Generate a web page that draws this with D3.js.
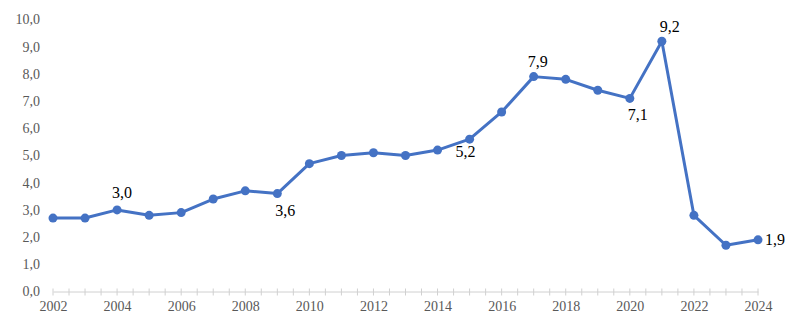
<!DOCTYPE html>
<html>
<head>
<meta charset="utf-8">
<script src="https://cdn.jsdelivr.net/npm/d3@7"></script>
<style>
  body { margin: 0; background: #fff; }
  svg { display: block; }
</style>
</head>
<body>
<div id="chart"></div>
<script>
// data
var years  = [2002, 2003, 2004, 2005, 2006, 2007, 2008, 2009, 2010, 2011, 2012, 2013,
              2014, 2015, 2016, 2017, 2018, 2019, 2020, 2021, 2022, 2023, 2024];
var values = [2.7, 2.7, 3.0, 2.8, 2.9, 3.4, 3.7, 3.6, 4.7, 5.0, 5.1, 5.0,
              5.2, 5.6, 6.6, 7.9, 7.8, 7.4, 7.1, 9.2, 2.8, 1.7, 1.9];
var x_ticks = [2002, 2004, 2006, 2008, 2010, 2012, 2014, 2016, 2018, 2020, 2022, 2024];
var y_ticks = [0, 1, 2, 3, 4, 5, 6, 7, 8, 9, 10];
var label_years = [2004, 2009, 2015, 2017, 2020, 2021, 2024];
var label_texts = ["3,0", "3,6", "5,2", "7,9", "7,1", "9,2", "1,9"];

var width  = 791;
var height = 323;
var font   = '"Times New Roman", "Liberation Serif", Tinos, "DejaVu Serif", serif';

var data = years.map(function(y, i) { return { year: y, value: values[i] }; });

var x_scale = d3.scaleLinear().domain([2002, 2024]).range([53, 758]);
var y_scale = d3.scaleLinear().domain([0, 10]).range([291.5, 19.5]);

var svg = d3.select('#chart')
    .append('svg')
    .attr('width', width)
    .attr('height', height)
    .style('font-family', font);

var fmt = function(v) { return d3.format('.1f')(v).replace('.', ','); };

// y-axis labels only (no line)
var y_axis = d3.axisLeft(y_scale)
    .tickValues(y_ticks)
    .tickSize(0)
    .tickPadding(0)
    .tickFormat(fmt);

var gy = svg.append('g')
    .attr('transform', 'translate(40,0)')
    .call(y_axis);
gy.select('.domain').remove();
gy.selectAll('text')
    .attr('fill', '#595959')
    .style('font-family', font)
    .style('font-size', '14px');

// x-axis
var half_years = d3.range(2002, 2024.01, 0.5);
var x_axis = d3.axisBottom(x_scale)
    .tickValues(x_ticks)
    .tickSize(0)
    .tickPadding(10)
    .tickFormat(d3.format('d'));

var gx = svg.append('g')
    .attr('transform', 'translate(0,' + y_scale(0) + ')')
    .call(x_axis);
gx.select('.domain').attr('stroke', '#d0d0d0');
gx.selectAll('text')
    .attr('fill', '#595959')
    .style('font-family', font)
    .style('font-size', '14px');

gx.selectAll('line.minor')
    .data(half_years)
    .enter()
    .append('line')
    .attr('class', 'minor')
    .attr('x1', function(d) { return x_scale(d); })
    .attr('x2', function(d) { return x_scale(d); })
    .attr('y1', -3)
    .attr('y2', 4)
    .attr('stroke', '#d0d0d0');

// line
var line = d3.line()
    .x(function(d) { return x_scale(d.year); })
    .y(function(d) { return y_scale(d.value); });

svg.append('path')
    .datum(data)
    .attr('fill', 'none')
    .attr('stroke', '#4472c4')
    .attr('stroke-width', 3)
    .attr('stroke-linejoin', 'round')
    .attr('d', line);

svg.selectAll('circle.pt')
    .data(data)
    .enter()
    .append('circle')
    .attr('class', 'pt')
    .attr('cx', function(d) { return x_scale(d.year); })
    .attr('cy', function(d) { return y_scale(d.value); })
    .attr('r', 4.5)
    .attr('fill', '#4472c4');

// data labels, offset from their point
var offsets = {
    2004: [5, -12, 'middle'],
    2009: [8, 22, 'middle'],
    2015: [-4, 18, 'middle'],
    2017: [4, -10, 'middle'],
    2020: [8, 22, 'middle'],
    2021: [8, -9, 'middle'],
    2024: [7, 5, 'start']
};

svg.selectAll('text.lbl')
    .data(label_years)
    .enter()
    .append('text')
    .attr('class', 'lbl')
    .attr('x', function(d) {
        return x_scale(d) + offsets[d][0];
    })
    .attr('y', function(d) {
        return y_scale(values[years.indexOf(d)]) + offsets[d][1];
    })
    .attr('text-anchor', function(d) { return offsets[d][2]; })
    .style('font-family', font)
    .style('font-size', '16px')
    .attr('fill', '#000')
    .text(function(d, i) { return label_texts[i]; });
</script>
</body>
</html>
